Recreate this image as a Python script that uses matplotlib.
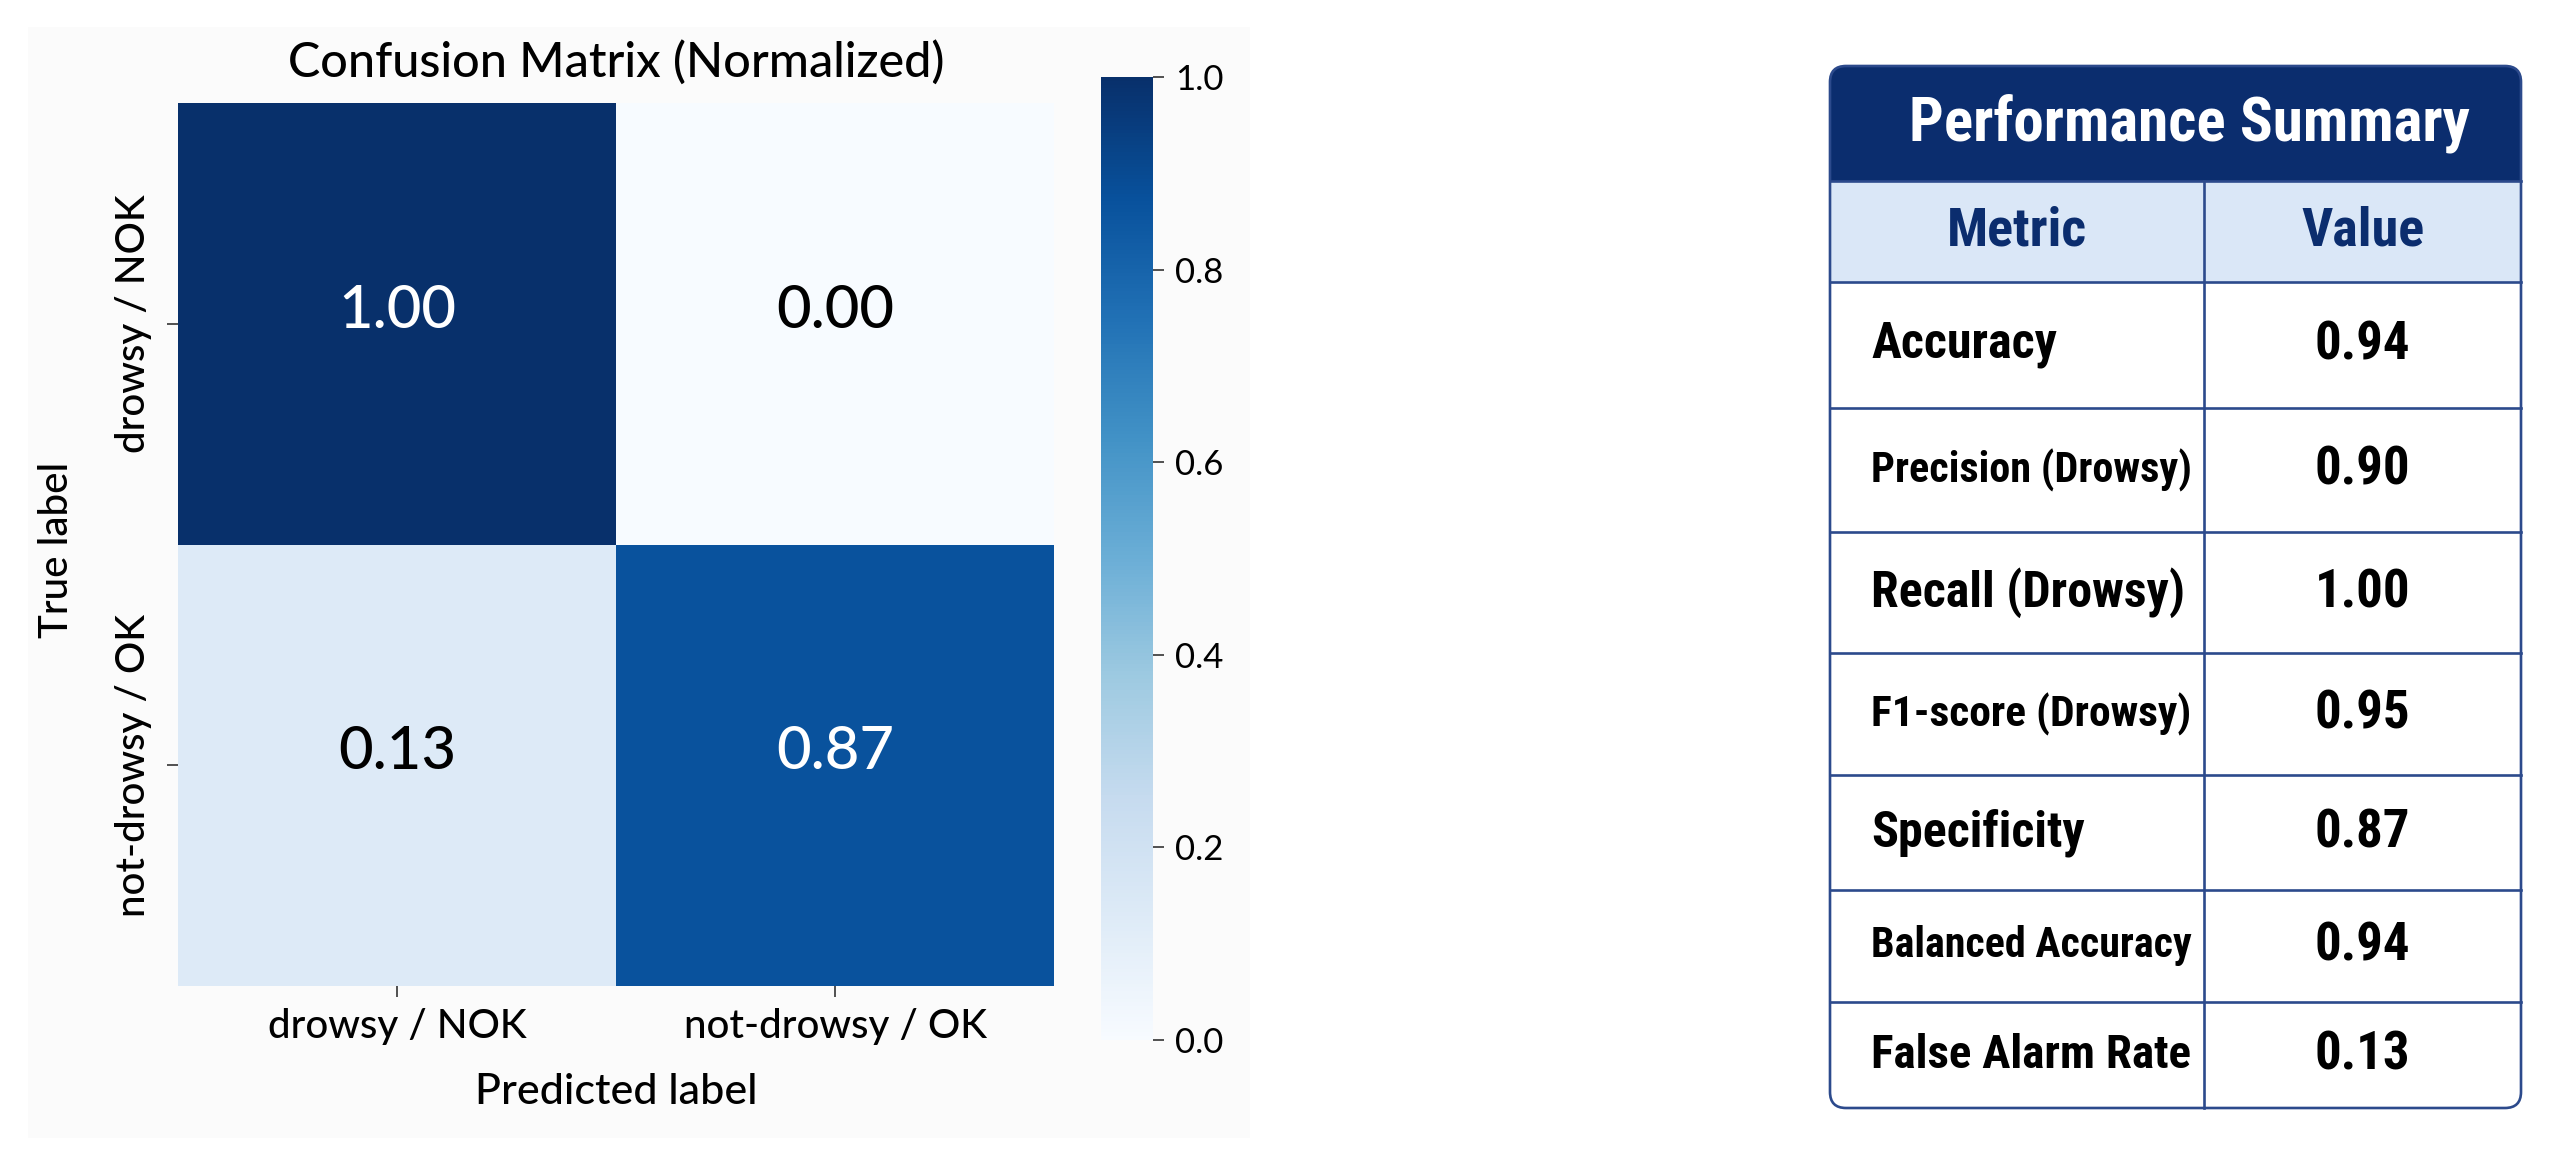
import matplotlib
matplotlib.use('Agg')
import matplotlib.pyplot as plt
import numpy as np
from matplotlib import font_manager as fm
from matplotlib.patches import FancyBboxPatch, Rectangle

# ---------------- data ----------------
classes = ['drowsy / NOK', 'not-drowsy / OK']
cm_values = [[1.00, 0.00],
             [0.13, 0.87]]
cbar_ticks = [0.0, 0.2, 0.4, 0.6, 0.8, 1.0]
title_text = 'Confusion Matrix (Normalized)'
xlabel_text = 'Predicted label'
ylabel_text = 'True label'

table_title = 'Performance Summary'
table_header = ['Metric', 'Value']
metrics = ['Accuracy', 'Precision (Drowsy)', 'Recall (Drowsy)', 'F1-score (Drowsy)',
           'Specificity', 'Balanced Accuracy', 'False Alarm Rate']
metric_values = [0.94, 0.90, 1.00, 0.95, 0.87, 0.94, 0.13]

# ---------------- fonts ----------------
avail = {f.name for f in fm.fontManager.ttflist}
def pick(cands):
    for n in cands:
        if n in avail:
            return n
    return 'DejaVu Sans'
heat_font = pick(['Lato', 'Open Sans', 'Noto Sans', 'DejaVu Sans'])
narrow_font = pick(['Liberation Sans Narrow', 'Roboto Condensed', 'Open Sans Condensed',
                    'Noto Sans', 'Liberation Sans', 'DejaVu Sans'])

W, H = 2553, 1162
fig = plt.figure(figsize=(W / 100, H / 100), dpi=100)
fig.patch.set_facecolor('white')

def fr(x0, y0, x1, y1):
    return [x0 / W, 1 - y1 / H, (x1 - x0) / W, (y1 - y0) / H]

# overlay axes in pixel coordinates (background panel + table)
ov = fig.add_axes([0, 0, 1, 1])
ov.set_xlim(0, W)
ov.set_ylim(H, 0)
ov.axis('off')
ov.add_patch(Rectangle((28, 27), 1222, 1111, fc='#fbfbfb', ec='none', zorder=0))

# ---------------- heatmap ----------------
ax = fig.add_axes(fr(178, 103, 1054, 986))
data = np.array(cm_values)
n = len(classes)
mesh = ax.pcolormesh(np.arange(n + 1), np.arange(n + 1), data, cmap='Blues', vmin=0, vmax=1)
ax.set_xlim(0, n)
ax.set_ylim(n, 0)
for s in ax.spines.values():
    s.set_visible(False)
centers = np.arange(n) + 0.5
ax.set_xticks(centers)
ax.set_xticklabels(classes, fontfamily=heat_font, fontsize=29, fontweight=500)
ax.set_yticks(centers)
ax.set_yticklabels(classes, fontfamily=heat_font, fontsize=29, fontweight=500,
                   rotation=90, va='center')
ax.tick_params(axis='x', length=8, width=1.2, color='#333333', pad=8)
ax.tick_params(axis='y', length=8, width=1.2, color='#333333', pad=11)

for i in range(n):
    for j in range(n):
        v = data[i, j]
        ax.text(j + 0.5, i + 0.47, f'{v:.2f}', ha='center', va='center',
                fontsize=43, fontfamily=heat_font, fontweight=500,
                color='white' if v > 0.5 else 'black')

ax.set_xlabel(xlabel_text, fontfamily=heat_font, fontsize=31, fontweight=500)
ax.xaxis.label.set_va('center')
ax.xaxis.set_label_coords(0.5, -(1092 - 986) / 883)
ax.set_ylabel(ylabel_text, fontfamily=heat_font, fontsize=29, fontweight=500)
ax.yaxis.label.set_va('center')
ax.yaxis.set_label_coords((57 - 178) / 876, 1 - (550 - 103) / 883)
ax.text(0.5, 1 + (103 - 62) / 883, title_text, transform=ax.transAxes,
        ha='center', va='center', fontsize=35, fontfamily=heat_font, fontweight=500)

cax = fig.add_axes(fr(1101, 77, 1153, 1040))
cb = fig.colorbar(mesh, cax=cax, ticks=cbar_ticks)
cb.outline.set_visible(False)
cax.tick_params(labelsize=25, length=8, width=1.2, color='#333333', pad=8)
for t in cax.get_yticklabels():
    t.set_fontfamily(heat_font)

# ---------------- table ----------------
navy = '#0b2d6e'
border = '#2c4a8c'
light = '#dae7f7'
L, R, T, B = 1830, 2521, 66, 1108
col_div = 2204
hdr_b = 181
row_edges = [282, 408, 532, 653, 775, 890, 1002, 1108]
colhdr_b = row_edges[0]
rad = 16

ov.add_patch(FancyBboxPatch((L, T), R - L, B - T, boxstyle=f'round,pad=0,rounding_size={rad}',
                            fc='white', ec='none', zorder=1))
ov.add_patch(FancyBboxPatch((L, T), R - L, hdr_b - T, boxstyle=f'round,pad=0,rounding_size={rad}',
                            fc=navy, ec='none', zorder=2))
ov.add_patch(Rectangle((L, T + 30), R - L, hdr_b - T - 30, fc=navy, ec='none', zorder=2))
ov.add_patch(Rectangle((L, hdr_b), R - L, colhdr_b - hdr_b, fc=light, ec='none', zorder=2))

lw = 1.9
ov.plot([L, R], [hdr_b, hdr_b], color=border, lw=lw, zorder=3)
for yb in row_edges[:-1]:
    ov.plot([L, R], [yb, yb], color=border, lw=lw, zorder=3)
ov.plot([col_div, col_div], [hdr_b, B], color=border, lw=lw, zorder=3)
ov.add_patch(FancyBboxPatch((L, T), R - L, B - T, boxstyle=f'round,pad=0,rounding_size={rad}',
                            fc='none', ec=border, lw=lw, zorder=4))

ov.text(2189, (T + hdr_b) / 2, table_title, ha='center', va='center', color='white',
        fontsize=44, fontweight='bold', fontfamily=narrow_font, zorder=5)
col_centers = [(L + col_div) / 2, (col_div + R) / 2]
for cx, h in zip(col_centers, table_header):
    ov.text(cx, (hdr_b + colhdr_b) / 2, h, ha='center', va='center', color=navy,
            fontsize=39, fontweight='bold', fontfamily=narrow_font, zorder=5)

fig.canvas.draw()
renderer = fig.canvas.get_renderer()
max_w = col_div - 1871 - 12
for k, (m, v) in enumerate(zip(metrics, metric_values)):
    yc = (row_edges[k] + row_edges[k + 1]) / 2
    t = ov.text(1871, yc, m, ha='left', va='center', color='black',
                fontsize=36, fontweight='bold', fontfamily=narrow_font, zorder=5)
    w = t.get_window_extent(renderer).width
    if w > max_w:
        t.set_fontsize(36 * max_w / w)
    ov.text(col_centers[1], yc, f'{v:.2f}', ha='center', va='center', color='black',
            fontsize=38, fontweight='bold', fontfamily=narrow_font, zorder=5)

fig.savefig('out.png', dpi=100, facecolor='white')
